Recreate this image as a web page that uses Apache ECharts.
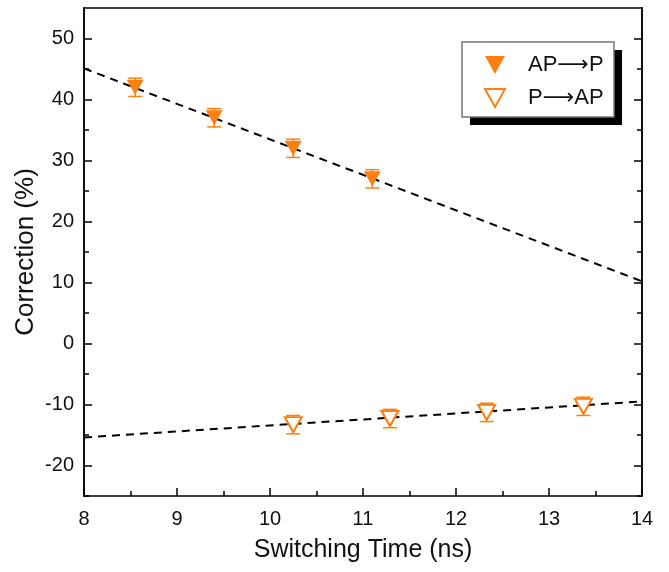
<!DOCTYPE html>
<html>
<head>
<meta charset="utf-8">
<script src="https://cdn.jsdelivr.net/npm/echarts@6/dist/echarts.min.js"></script>
<style>
  html, body { margin: 0; padding: 0; background: #fff; }
  #chart { width: 669px; height: 572px; }
</style>
</head>
<body>
<div id="chart"></div>
<script>
// 数据
var apX = [8.55, 9.4, 10.25, 11.1];
var apY = [42, 37, 32, 27];
var paX = [10.25, 11.29, 12.33, 13.37];
var paY = [-13.3, -12.3, -11.3, -10.3];
var errSize = 1.5;
// 拟合直线（端点读自图）
var fitAP = [[8, 45.1], [14, 10.2]];
var fitPA = [[8, -15.4], [14, -9.5]];
// 刻度
var yMajor = [-20, -10, 0, 10, 20, 30, 40, 50];
var yMinor = [-25, -15, -5, 5, 15, 25, 35, 45];

var orange = "#ff8010";
var font = "Liberation Sans";
var downTri = "path://M0,0 L10,0 L5,9 Z";

function pairs(xs, ys) {
  return xs.map(function (x, i) { return [x, ys[i]]; });
}

function errorBars(xs, ys) {
  return {
    type: "custom",
    silent: true,
    z: 3,
    data: pairs(xs, ys),
    renderItem: function (params, api) {
      var top = api.coord([api.value(0), api.value(1) + errSize]);
      var bot = api.coord([api.value(0), api.value(1) - errSize]);
      var w = 7;
      var st = { stroke: orange, lineWidth: 1.5 };
      return {
        type: "group",
        children: [
          { type: "line", shape: { x1: top[0], y1: top[1], x2: bot[0], y2: bot[1] }, style: st },
          { type: "line", shape: { x1: top[0] - w, y1: top[1], x2: top[0] + w, y2: top[1] }, style: st },
          { type: "line", shape: { x1: bot[0] - w, y1: bot[1], x2: bot[0] + w, y2: bot[1] }, style: st }
        ]
      };
    }
  };
}

var dom = document.getElementById("chart");
var myChart = echarts.init(dom, null, { renderer: "canvas" });

var axisLine = { show: true, onZero: false, lineStyle: { color: "#000", width: 1.5 } };
var tickStyle = { color: "#000", width: 1.5 };

function yAxisBase(pos) {
  return {
    type: "value", min: -25, max: 55, interval: 5, position: pos,
    axisLine: axisLine, axisLabel: { show: false }, splitLine: { show: false }
  };
}

var yMain = yAxisBase("left");
yMain.name = "Correction (%)";
yMain.nameLocation = "middle";
yMain.nameGap = 45;
yMain.nameMoveOverlap = false;
yMain.nameTextStyle = { fontSize: 26, color: "#111", fontFamily: font };
yMain.axisTick = { inside: true, length: 8, customValues: yMajor, lineStyle: tickStyle };
yMain.axisLabel = { show: true, fontSize: 20, color: "#111", margin: 10, fontFamily: font, customValues: yMajor };

var yMinorLeft = yAxisBase("left");
yMinorLeft.axisTick = { inside: true, length: 5, customValues: yMinor, lineStyle: tickStyle };

var yRight = yAxisBase("right");
yRight.axisTick = { inside: true, length: 8, customValues: yMajor, lineStyle: tickStyle };

var yMinorRight = yAxisBase("right");
yMinorRight.axisTick = { inside: true, length: 5, customValues: yMinor, lineStyle: tickStyle };

var option = {
  backgroundColor: "#fff",
  animation: false,
  textStyle: { fontFamily: font },
  grid: { left: 84, right: 27, top: 8, bottom: 76 },
  graphic: [
    { type: "rect", shape: { x: 470, y: 50, width: 152, height: 75 }, style: { fill: "#000" } },
    { type: "rect", shape: { x: 462, y: 42, width: 152, height: 75 }, style: { fill: "#fff", stroke: "#777", lineWidth: 1.5 } }
  ],
  legend: {
    orient: "vertical",
    left: 479,
    top: 49,
    itemGap: 11,
    itemWidth: 20,
    itemHeight: 18,
    formatter: function (name) { return name.replace("→", "⟶"); },
    textStyle: { fontSize: 22, color: "#111", fontFamily: "Liberation Sans, DejaVu Sans", padding: [0, 0, 0, 18] },
    data: [
      { name: "AP→P", icon: downTri },
      { name: "P→AP", icon: downTri, itemStyle: { color: "#fff", borderColor: orange, borderWidth: 2 } }
    ]
  },
  xAxis: [
    {
      type: "value", min: 8, max: 14, interval: 1,
      name: "Switching Time (ns)", nameLocation: "middle", nameGap: 42, nameMoveOverlap: false,
      nameTextStyle: { fontSize: 25, color: "#111", fontFamily: font },
      axisLine: axisLine,
      axisTick: { inside: true, length: 8, lineStyle: tickStyle },
      minorTick: { show: true, splitNumber: 2, length: 5, lineStyle: tickStyle },
      axisLabel: { fontSize: 20, color: "#111", margin: 13, fontFamily: font },
      splitLine: { show: false }
    },
    {
      type: "value", min: 8, max: 14, interval: 1, position: "top",
      axisLine: axisLine, axisTick: { show: false }, axisLabel: { show: false }, splitLine: { show: false }
    }
  ],
  yAxis: [yMain, yMinorLeft, yRight, yMinorRight],
  series: [
    {
      name: "fitAP", type: "line", data: fitAP, symbol: "none", silent: true, z: 2,
      lineStyle: { color: "#000", width: 2, type: [8, 6] }
    },
    {
      name: "fitPA", type: "line", data: fitPA, symbol: "none", silent: true, z: 2,
      lineStyle: { color: "#000", width: 2, type: [8, 6] }
    },
    errorBars(apX, apY),
    errorBars(paX, paY),
    {
      name: "AP→P", type: "scatter", data: pairs(apX, apY), z: 4,
      symbol: downTri, symbolSize: [17, 15],
      itemStyle: { color: orange, opacity: 1 }
    },
    {
      name: "P→AP", type: "scatter", data: pairs(paX, paY), z: 4,
      symbol: downTri, symbolSize: [17, 15],
      itemStyle: { color: "#fff", borderColor: orange, borderWidth: 2, opacity: 1 }
    }
  ]
};

myChart.setOption(option);
</script>
</body>
</html>
